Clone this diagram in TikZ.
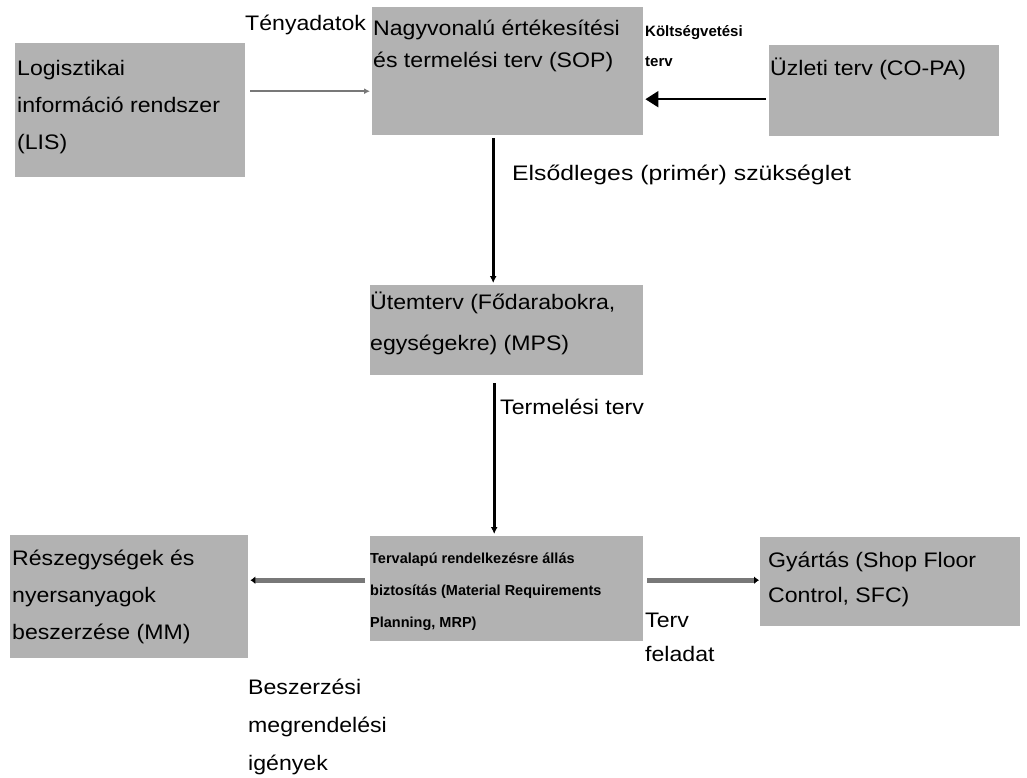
\documentclass[tikz,border=0pt]{standalone}
\usepackage{fontspec}
\setmainfont{Liberation Sans}
\newfontfamily\widef{Liberation Sans}[FakeStretch=1.1]
\usetikzlibrary{arrows.meta}
\definecolor{boxgray}{RGB}{178,178,178}
\definecolor{arrgray}{RGB}{120,120,120}
\tikzset{
  gbox/.style={fill=boxgray, draw=none, anchor=north west, inner sep=0pt},
  txt/.style={anchor=base west, inner sep=0pt, align=left, font=\widef\fontsize{21}{37}\selectfont},
  small/.style={anchor=base west, inner sep=0pt, align=left, font=\bfseries\fontsize{15}{30}\selectfont},
  blackarr/.style={draw=black, line width=3pt, -{Latex[length=7pt,width=7pt]}},
  thinarr/.style={draw=arrgray, line width=1.6pt, -{Latex[length=6pt,width=6pt]}},
  bigarr/.style={draw=black, line width=2pt, -{Triangle[length=13pt,width=16pt]}},
  grayarr/.style={draw=arrgray, line width=5pt, -{Latex[length=5pt,width=8pt,color=black]}}
}
\begin{document}
\begin{tikzpicture}[x=1pt,y=-1pt]
\useasboundingbox[fill=white] (0,0) rectangle (1027,778);
% boxes
\node[gbox, minimum width=230, minimum height=134] (lis) at (15,43) {};
\node[gbox, minimum width=271, minimum height=128] (sop) at (372,7) {};
\node[gbox, minimum width=230, minimum height=91] (copa) at (769,45) {};
\node[gbox, minimum width=273, minimum height=90] (mps) at (370,285) {};
\node[gbox, minimum width=273, minimum height=105] (mrp) at (370,536) {};
\node[gbox, minimum width=238, minimum height=123] (mm) at (10,535) {};
\node[gbox, minimum width=260, minimum height=89] (sfc) at (760,537) {};
% box texts (base anchor = baseline of last line)
\node[txt] (lisT) at (17,149.5) {Logisztikai\\információ rendszer\\(LIS)};
\node[txt, font=\widef\fontsize{21}{32}\selectfont] (sopT) at (373,67.5) {Nagyvonalú értékesítési\\és termelési terv (SOP)};
\node[txt] (copaT) at (770,75.5) {Üzleti terv (CO-PA)};
\node[txt, font=\widef\fontsize{21}{41}\selectfont] (mpsT) at (370,350) {Ütemterv (Fődarabokra,\\egységekre) (MPS)};
\node[small, font=\bfseries\fontsize{14.5}{32}\selectfont] (mrpT) at (370,627) {Tervalapú rendelkezésre állás\\biztosítás (Material Requirements\\Planning, MRP)};
\node[txt] (mmT) at (12,639) {Részegységek és\\nyersanyagok\\beszerzése (MM)};
\node[txt, font=\widef\fontsize{21}{35}\selectfont] (sfcT) at (768,602) {Gyártás (Shop Floor\\Control, SFC)};
% labels
\node[txt] (tenyT) at (245,31) {Tényadatok};
\node[small] (koltT) at (645,67) {Költségvetési\\terv};
\node[txt, font=\widef\fontsize{21}{37}\selectfont\addfontfeature{FakeStretch=1.18}] (elsoT) at (512,180.5) {Elsődleges (primér) szükséglet};
\node[txt] (termT) at (500,414) {Termelési terv};
\node[txt, font=\widef\fontsize{21}{34}\selectfont] (tervT) at (645,661) {Terv\\feladat};
\node[txt, font=\widef\fontsize{21}{38}\selectfont] (beszT) at (248,770.5) {Beszerzési\\megrendelési\\igények};
% connectors
\draw[thinarr] ([xshift=5pt,yshift=19pt]lis.east) coordinate (a1) -- ([xshift=-2pt]a1 -| sop.west);
\draw[bigarr] ([xshift=-3pt,yshift=-8.5pt]copa.west) coordinate (a2) -- ([xshift=2pt]a2 -| sop.east);
\draw[blackarr] ([xshift=-14.5pt,yshift=-3pt]sop.south) coordinate (a3) -- ([yshift=2pt]a3 |- mps.north);
\draw[blackarr] ([xshift=-12.5pt,yshift=-8pt]mps.south) coordinate (a4) -- ([yshift=2pt]a4 |- mrp.north);
\draw[grayarr] ([xshift=-5pt,yshift=8.5pt]mrp.west) coordinate (a5) -- ([xshift=2pt]a5 -| mm.east);
\draw[grayarr] ([xshift=4pt,yshift=8.5pt]mrp.east) coordinate (a6) -- ([xshift=-1pt]a6 -| sfc.west);
\end{tikzpicture}
\end{document}
